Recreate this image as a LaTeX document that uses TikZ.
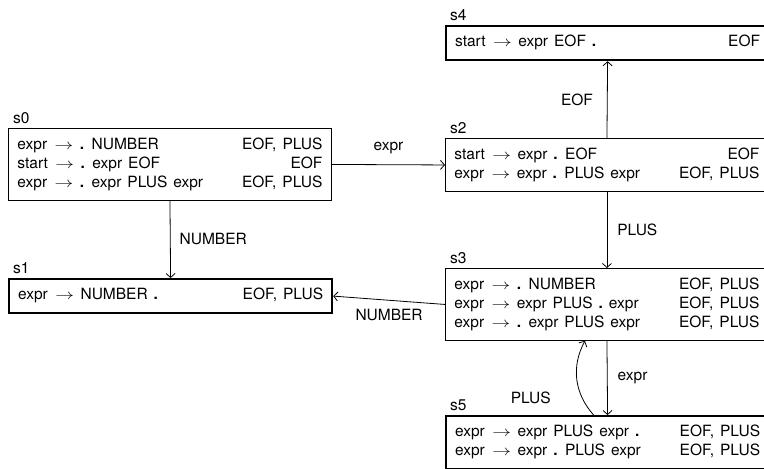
\documentclass[tikz,border=0pt]{standalone}
\usepackage{fontspec}
\setmainfont{TeX Gyre Heros}
\usetikzlibrary{arrows.meta}
\newcommand{\dt}{\textbf{.}}
\newcommand{\myto}{\hspace{1.5pt}\scalebox{1.3}[1]{$\rightarrow$}\hspace{0.5pt}}
\newcommand{\rows}[1]{\begin{tabular*}{305pt}{@{}l@{\extracolsep{\fill}}r@{}}#1\end{tabular*}}
\newcommand{\myfontsetup}{\fontsize{15.5}{19}\selectfont\spaceskip=6pt plus 1pt minus 1pt\relax}
\begin{document}
\begin{tikzpicture}[x=1pt,y=-1pt,
  font=\myfontsetup,
  state/.style={draw, rectangle, inner xsep=9pt, inner ysep=7.5pt, line width=0.9pt, anchor=north west},
  finalstate/.style={state, line width=2.2pt},
  lbl/.style={anchor=base west, inner sep=0pt},
  edge/.style={line width=0.8pt, -{Straight Barb[length=4pt,width=9pt]}},
  elabel/.style={inner sep=2pt}]
\useasboundingbox (0,0) rectangle (764,469);

\node[state] (s0) at (8,128) {\rows{%
expr \myto{} \dt{} NUMBER & EOF, PLUS\\
start \myto{} \dt{} expr EOF & EOF\\
expr \myto{} \dt{} expr PLUS expr & EOF, PLUS}};
\node[finalstate] (s1) at (8,278) {\rows{%
expr \myto{} NUMBER \dt{} & EOF, PLUS}};
\node[finalstate] (s4) at (445,25) {\rows{%
start \myto{} expr EOF \dt{} & EOF}};
\node[state] (s2) at (445,138) {\rows{%
start \myto{} expr \dt{} EOF & EOF\\
expr \myto{} expr \dt{} PLUS expr & EOF, PLUS}};
\node[state] (s3) at (445,268) {\rows{%
expr \myto{} \dt{} NUMBER & EOF, PLUS\\
expr \myto{} expr PLUS \dt{} expr & EOF, PLUS\\
expr \myto{} \dt{} expr PLUS expr & EOF, PLUS}};
\node[finalstate] (s5) at (445,415) {\rows{%
expr \myto{} expr PLUS expr \dt{} & EOF, PLUS\\
expr \myto{} expr \dt{} PLUS expr & EOF, PLUS}};

\foreach \s in {s0,s1,s2,s3,s4,s5}
  \node[lbl] (\s-name) at ([xshift=5pt,yshift=5pt]\s.north west) {\s};

\draw[edge] (s0.east) -- (s2.west) node[midway, above=8pt, elabel] {expr};
\draw[edge] (s0.south) -- (s1.north) node[midway, right=7pt, elabel] {NUMBER};
\draw[edge] (s2.north) -- (s4.south) node[midway, left=12pt, elabel] {EOF};
\draw[edge] (s2.south) -- (s3.north) node[midway, right=8pt, elabel] {PLUS};
\draw[edge] (s3.west) -- (s1.east) node[midway, below=7pt, elabel] {NUMBER};
\draw[edge] (s3.south) -- (s5.north) node[midway, right=8pt, elabel] {expr};
\draw[edge] ([xshift=-14pt]s5.north) to[bend left=35] node[pos=0.25, left=29pt, elabel] {PLUS} ([xshift=-22pt]s3.south);
\end{tikzpicture}
\end{document}
